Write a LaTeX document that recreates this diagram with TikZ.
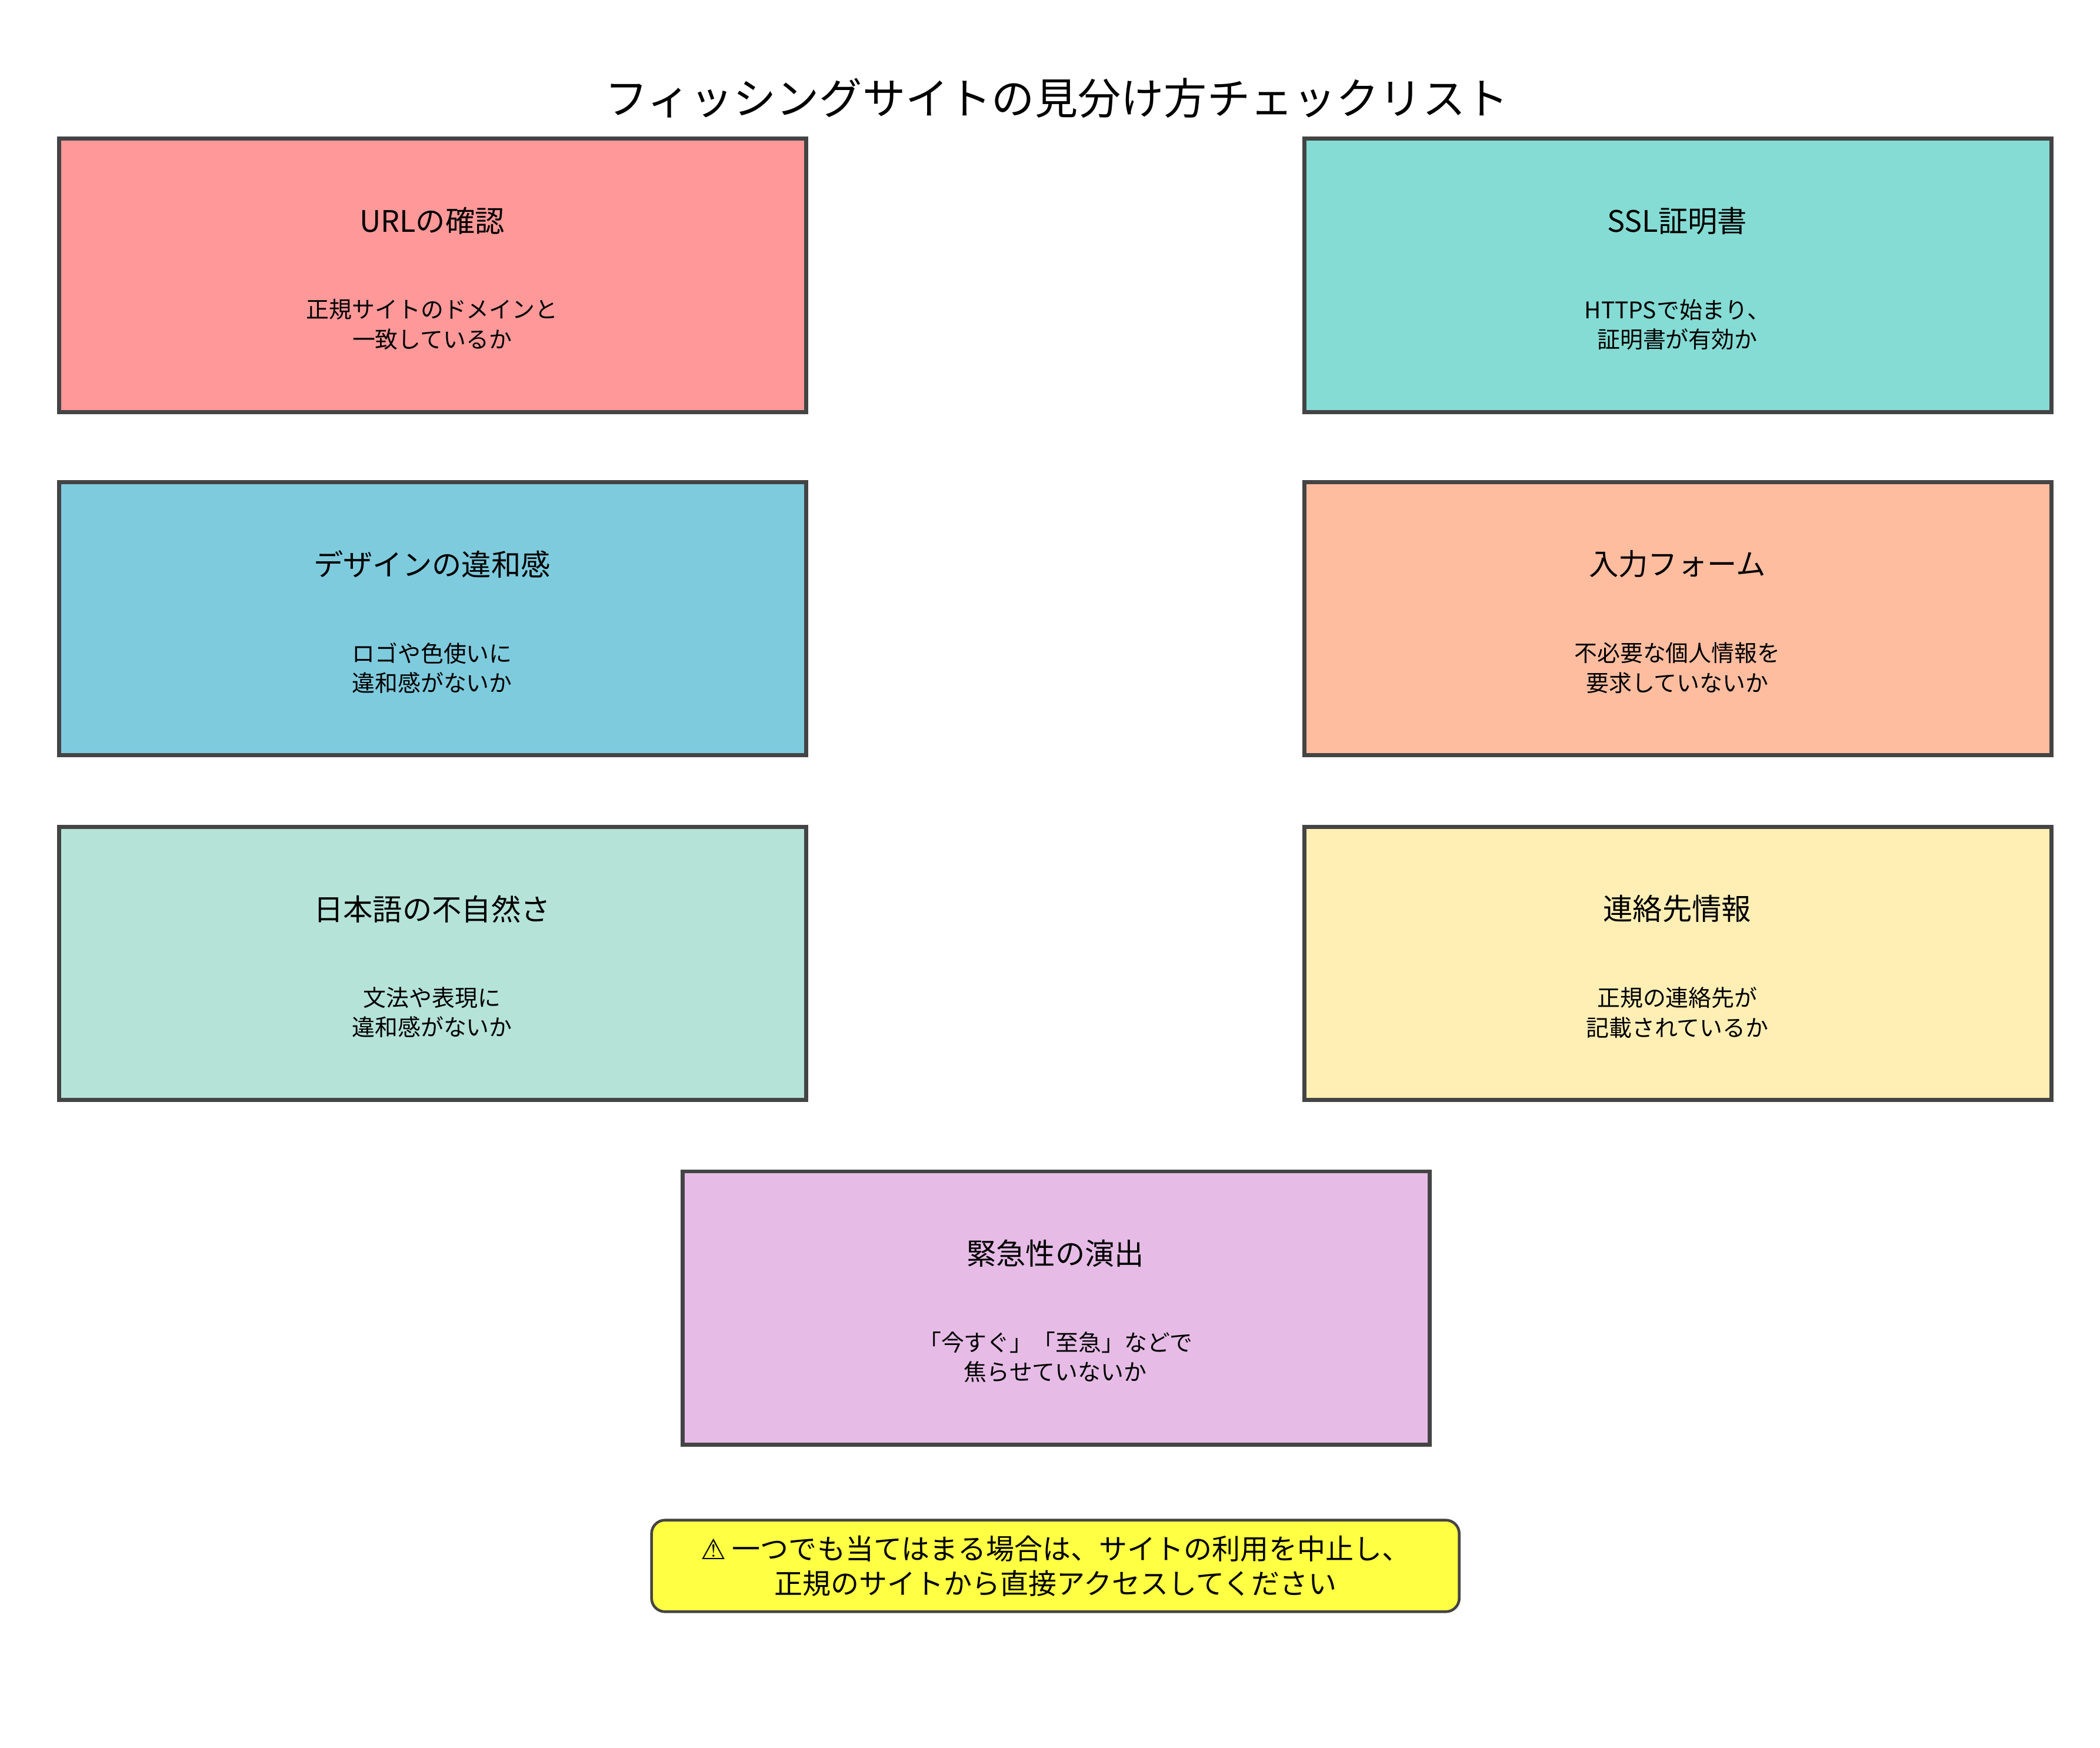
\documentclass[tikz,border=0pt]{standalone}
\usepackage{fontspec}
\setmainfont{Noto Sans CJK JP}
\newfontfamily\symf{DejaVu Sans}
\definecolor{cA}{HTML}{FF9999}
\definecolor{cB}{HTML}{85DCD4}
\definecolor{cC}{HTML}{7FCBDE}
\definecolor{cD}{HTML}{FFBDA0}
\definecolor{cE}{HTML}{B5E3D8}
\definecolor{cF}{HTML}{FFEFB5}
\definecolor{cG}{HTML}{E6BCE6}
\definecolor{cN}{HTML}{FFFF44}
\definecolor{bd}{HTML}{444444}
\begin{document}
\begin{tikzpicture}[x=0.5pt,y=-0.5pt,
 card/.style={draw=bd,line width=1.5pt},
 ttl/.style={font=\fontsize{11}{13}\selectfont,anchor=center},
 bdy/.style={font=\fontsize{8.5}{11}\selectfont,align=center,anchor=center}]
\useasboundingbox (0,0) rectangle (1560,1298);
\node[font=\fontsize{16}{19}\selectfont] (title) at (785,73) {フィッシングサイトの見分け方チェックリスト};
\newcommand{\card}[7]{%
 \draw[card,fill=#3] (#1,#2) rectangle ++(555,203);
 \node[ttl] (#4t) at ({#1+277},{#2+61}) {#5};
 \node[bdy] (#4b) at ({#1+277},{#2+138}) {#6\\#7};}
\card{44}{103}{cA}{a}{URLの確認}{正規サイトのドメインと}{一致しているか}
\card{969}{103}{cB}{b}{SSL証明書}{HTTPSで始まり、}{証明書が有効か}
\card{44}{358}{cC}{c}{デザインの違和感}{ロゴや色使いに}{違和感がないか}
\card{969}{358}{cD}{d}{入力フォーム}{不必要な個人情報を}{要求していないか}
\card{44}{614}{cE}{e}{日本語の不自然さ}{文法や表現に}{違和感がないか}
\card{969}{614}{cF}{f}{連絡先情報}{正規の連絡先が}{記載されているか}
\card{507}{870}{cG}{g}{緊急性の演出}{「今すぐ」「至急」などで}{焦らせていないか}
\draw[draw=bd,line width=1pt,fill=cN,rounded corners=5pt] (484,1129) rectangle (1084,1197);
\node[font=\fontsize{10.5}{13}\selectfont,align=center] (note) at (784,1163) {{\symf ⚠}\ 一つでも当てはまる場合は、サイトの利用を中止し、\\正規のサイトから直接アクセスしてください};
\end{tikzpicture}
\end{document}
